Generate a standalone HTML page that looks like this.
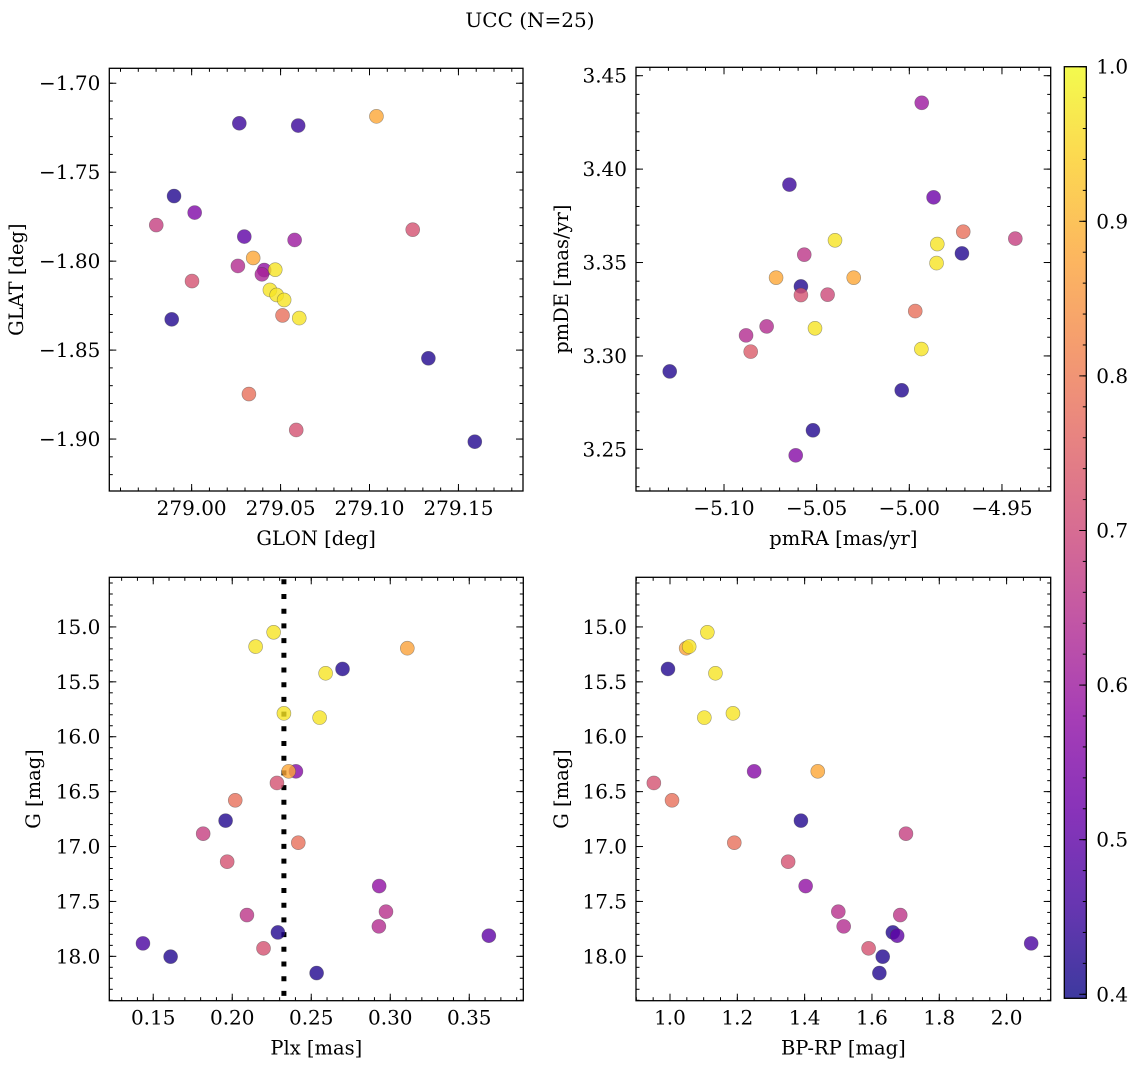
<!DOCTYPE html>
<html><head><meta charset="utf-8"><title>UCC (N=25)</title>
<style>
html,body{margin:0;padding:0;background:#fff;}
svg{display:block;font-family:"DejaVu Serif","Liberation Serif",serif;}
</style></head>
<body>
<svg id="fig" width="1136" height="1067" viewBox="0 0 1136 1067" xmlns="http://www.w3.org/2000/svg">
<rect width="1136" height="1067" fill="#fff"/>
<text x="530" y="27" font-size="20" text-anchor="middle">UCC (N=25)</text>
</svg>
<script>
// ---- data ----
const p1Lon=[279.0268,279.0599,279.1039,278.9901,279.0017,278.9801,279.0296,279.0579,279.1243,279.026,279.0346,279.0408,279.0395,279.047,279.0002,279.044,279.0478,279.052,279.0511,279.0605,278.9888,279.1331,279.0322,279.0588,279.1592];
const p1Lat=[-1.7225,-1.7238,-1.7186,-1.7634,-1.7727,-1.7797,-1.7862,-1.7881,-1.7823,-1.8027,-1.7982,-1.805,-1.8074,-1.8048,-1.8112,-1.8162,-1.819,-1.8218,-1.8305,-1.832,-1.8327,-1.8546,-1.8747,-1.8949,-1.9015];
const p1Prob=[0.45,0.45,0.88,0.42,0.55,0.68,0.5,0.6,0.72,0.64,0.88,0.58,0.62,0.97,0.72,0.97,0.97,0.97,0.78,0.97,0.42,0.42,0.78,0.72,0.42];

const p2PmRA=[-4.9933,-5.0647,-4.9869,-5.0401,-4.9428,-4.9709,-4.9849,-5.0567,-4.9716,-4.9853,-5.0719,-5.03,-5.0585,-5.0585,-5.0441,-4.9968,-5.0509,-5.077,-5.0881,-5.0856,-4.9935,-5.1293,-5.0041,-5.052,-5.0613];
const p2PmDE=[3.4355,3.3917,3.3849,3.3619,3.3628,3.3665,3.3599,3.3542,3.3549,3.3497,3.3419,3.3419,3.3372,3.3326,3.3328,3.324,3.3148,3.3158,3.311,3.3023,3.3037,3.2917,3.2816,3.2602,3.2468];
const p2Prob=[0.6,0.45,0.52,0.97,0.68,0.78,0.97,0.66,0.42,0.97,0.88,0.88,0.42,0.72,0.7,0.78,0.97,0.64,0.64,0.74,0.97,0.42,0.42,0.42,0.56];

const p3Plx=[0.2262,0.2148,0.3108,0.2698,0.2591,0.2327,0.2553,0.2403,0.2357,0.2283,0.2019,0.1958,0.1816,0.2418,0.1968,0.293,0.2973,0.2093,0.2928,0.2289,0.3624,0.1435,0.2198,0.161,0.2534];
const p3G=[15.049,15.179,15.194,15.383,15.422,15.787,15.826,16.315,16.315,16.421,16.579,16.764,16.883,16.965,17.138,17.36,17.593,17.624,17.727,17.782,17.812,17.882,17.927,18.003,18.152];
const p3Prob=[0.97,0.97,0.87,0.42,0.97,0.97,0.97,0.56,0.88,0.72,0.78,0.42,0.68,0.78,0.72,0.58,0.65,0.66,0.64,0.42,0.5,0.47,0.72,0.42,0.42];
const plxMedian=0.2327;

const p4BPRP=[1.111,1.048,1.057,0.994,1.135,1.187,1.102,1.25,1.439,0.952,1.006,1.389,1.701,1.191,1.351,1.403,1.5,1.684,1.516,1.662,1.675,2.073,1.59,1.632,1.622];
const p4G=[15.049,15.194,15.179,15.383,15.422,15.787,15.826,16.315,16.315,16.421,16.579,16.764,16.883,16.965,17.138,17.36,17.593,17.624,17.727,17.782,17.812,17.882,17.927,18.003,18.152];
const p4Prob=[0.97,0.87,0.97,0.42,0.97,0.97,0.97,0.56,0.88,0.72,0.78,0.42,0.68,0.78,0.72,0.58,0.65,0.66,0.64,0.42,0.5,0.47,0.72,0.42,0.42];

const p1XTicks=[279.00,279.05,279.10,279.15];
const p1XLabels=["279.00","279.05","279.10","279.15"];
const p1YTicks=[-1.70,-1.75,-1.80,-1.85,-1.90];
const p1YLabels=["\u22121.70","\u22121.75","\u22121.80","\u22121.85","\u22121.90"];
const p2XTicks=[-5.10,-5.05,-5.00,-4.95];
const p2XLabels=["\u22125.10","\u22125.05","\u22125.00","\u22124.95"];
const p2YTicks=[3.45,3.40,3.35,3.30,3.25];
const p2YLabels=["3.45","3.40","3.35","3.30","3.25"];
const p3XTicks=[0.15,0.20,0.25,0.30,0.35];
const p3XLabels=["0.15","0.20","0.25","0.30","0.35"];
const gTicks=[15.0,15.5,16.0,16.5,17.0,17.5,18.0];
const gLabels=["15.0","15.5","16.0","16.5","17.0","17.5","18.0"];
const p4XTicks=[1.0,1.2,1.4,1.6,1.8,2.0];
const p4XLabels=["1.0","1.2","1.4","1.6","1.8","2.0"];
const cbTicks=[0.4,0.5,0.6,0.7,0.8,0.9,1.0];
const cbLabels=["0.4","0.5","0.6","0.7","0.8","0.9","1.0"];
const vmin=0.3974, vmax=1.0;

// ---- rendering ----
const NS="http://www.w3.org/2000/svg";
const svg=document.getElementById('fig');
const TFS=20, LFS=19.5;
function mk(tag,attrs,parent){const e=document.createElementNS(NS,tag);for(const k in attrs)e.setAttribute(k,attrs[k]);(parent||svg).appendChild(e);return e;}
const plasma=[[13,8,135],[65,4,157],[106,0,168],[143,13,164],[177,42,144],[204,71,120],[225,100,98],[242,132,75],[252,166,54],[252,206,37],[240,249,33]];
function cmap(v){let t=(v-vmin)/(vmax-vmin);t=Math.max(0,Math.min(1,t));const f=t*10,i=Math.min(9,Math.floor(f)),r=f-i;const a=plasma[i],b=plasma[i+1];return 'rgb('+a.map((c,k)=>Math.round(c+(b[k]-c)*r)).join(',')+')';}

function panel(o){
  const g=mk('g',{});
  
  
  const sx=v=>o.x0+(v-o.xmin)/(o.xmax-o.xmin)*(o.x1-o.x0);
  const sy=o.invert?(v=>o.y0+(v-o.ymin)/(o.ymax-o.ymin)*(o.y1-o.y0)):(v=>o.y1-(v-o.ymin)/(o.ymax-o.ymin)*(o.y1-o.y0));
  const ticks=mk('g',{stroke:'#000','stroke-width':1},g);
  
  
  function minors(lo,hi,step){const r=[];for(let k=Math.ceil(Math.min(lo,hi)/step-1e-6);k*step<=Math.max(lo,hi)+1e-9;k++)r.push(k*step);return r;}
  minors(o.xmin,o.xmax,o.xminor).forEach(v=>{const x=sx(v);mk('line',{x1:x,x2:x,y1:o.y1,y2:o.y1-3.5},ticks);mk('line',{x1:x,x2:x,y1:o.y0,y2:o.y0+3.5},ticks);});
  minors(o.ymin,o.ymax,o.yminor).forEach(v=>{const y=sy(v);mk('line',{x1:o.x0,x2:o.x0+3.5,y1:y,y2:y},ticks);mk('line',{x1:o.x1,x2:o.x1-3.5,y1:y,y2:y},ticks);});
  o.xt.forEach((v,i)=>{const x=sx(v);mk('line',{x1:x,x2:x,y1:o.y1,y2:o.y1-7},ticks);mk('line',{x1:x,x2:x,y1:o.y0,y2:o.y0+7},ticks);
    const t=mk('text',{x:x,y:o.y1+24,'font-size':TFS,'text-anchor':'middle'},g);t.textContent=o.xl[i];
    
    });
  o.yt.forEach((v,i)=>{const y=sy(v);mk('line',{x1:o.x0,x2:o.x0+7,y1:y,y2:y},ticks);mk('line',{x1:o.x1,x2:o.x1-7,y1:y,y2:y},ticks);
    const t=mk('text',{x:o.x0-9,y:y+7,'font-size':TFS,'text-anchor':'end'},g);t.textContent=o.yl[i];
    
    });
  const xt=mk('text',{x:(o.x0+o.x1)/2,y:o.y1+54,'font-size':LFS,'text-anchor':'middle'},g);xt.textContent=o.xlabel;
  
  
  const ty=(o.y0+o.y1)/2;
  const yt=mk('text',{x:o.ylx,y:ty,'font-size':LFS,'text-anchor':'middle',transform:'rotate(-90 '+o.ylx+' '+ty+')'},g);yt.textContent=o.ylabel;
  
  
  if(o.vline!==undefined){const x=sx(o.vline);const l=mk('line',{x1:x,x2:x,y1:o.y0+2,y2:o.y1,stroke:'#000','stroke-width':5,'stroke-dasharray':'5 9.7'},g);
    
    }
  o.xs.forEach((v,i)=>{const c=mk('circle',{cx:sx(v),cy:sy(o.ys[i]),r:7,fill:cmap(o.cs[i]),'fill-opacity':0.8,stroke:'#444','stroke-opacity':0.5,'stroke-width':0.6},g);
    
    });
  const fr=mk('rect',{x:o.x0,y:o.y0,width:o.x1-o.x0,height:o.y1-o.y0,fill:'none',stroke:'#000','stroke-width':1.3},g);
  
  
}

panel({name:'glon-glat-panel',x0:109.3,x1:523,y0:68.3,y1:491,xmin:278.9537,xmax:279.1863,ymin:-1.9292,ymax:-1.6916,xminor:0.01,yminor:0.01,xt:p1XTicks,xl:p1XLabels,yt:p1YTicks,yl:p1YLabels,xlabel:'GLON [deg]',ylabel:'GLAT [deg]',ylx:23,xs:p1Lon,ys:p1Lat,cs:p1Prob});
panel({name:'pm-panel',x0:636,x1:1050.7,y0:67.3,y1:491,xmin:-5.1475,xmax:-4.9237,ymin:3.2277,ymax:3.4545,xminor:0.01,yminor:0.01,xt:p2XTicks,xl:p2XLabels,yt:p2YTicks,yl:p2YLabels,xlabel:'pmRA [mas/yr]',ylabel:'pmDE [mas/yr]',ylx:568,xs:p2PmRA,ys:p2PmDE,cs:p2Prob});
panel({name:'plx-g-panel',x0:109.3,x1:523.3,y0:577.3,y1:1000.7,xmin:0.1222,xmax:0.3842,ymin:14.548,ymax:18.404,invert:true,xminor:0.01,yminor:0.1,xt:p3XTicks,xl:p3XLabels,yt:gTicks,yl:gLabels,xlabel:'Plx [mas]',ylabel:'G [mag]',ylx:40,xs:p3Plx,ys:p3G,cs:p3Prob,vline:plxMedian});
panel({name:'cmd-panel',x0:636,x1:1050.7,y0:577.3,y1:1000.7,xmin:0.899,xmax:2.131,ymin:14.548,ymax:18.404,invert:true,xminor:0.05,yminor:0.1,xt:p4XTicks,xl:p4XLabels,yt:gTicks,yl:gLabels,xlabel:'BP-RP [mag]',ylabel:'G [mag]',ylx:568,xs:p4BPRP,ys:p4G,cs:p4Prob});

// colorbar
(function(){
  const x0=1064.3,x1=1086.3,y0=66.7,y1=998.3;
  const cb=mk('g',{});
  
  
  const defs=mk('defs',{},cb);
  const lg=mk('linearGradient',{id:'cbg',x1:0,y1:1,x2:0,y2:0},defs);
  for(let i=0;i<=20;i++){const v=vmin+(vmax-vmin)*i/20;mk('stop',{offset:i/20,'stop-color':cmap(v),'stop-opacity':0.8},lg);}
  mk('rect',{x:x0,y:y0,width:x1-x0,height:y1-y0,fill:'url(#cbg)'},cb);
  const cy=v=>y1-(v-vmin)/(vmax-vmin)*(y1-y0);
  for(let k=20;k<=50;k++){const v=k*0.02;if(v<vmin-1e-9)continue;const y=cy(v);mk('line',{x1:x1,x2:x1-3.5,y1:y,y2:y,stroke:'#000','stroke-width':1},cb);}
  cbTicks.forEach((v,i)=>{const y=cy(v);mk('line',{x1:x1,x2:x1-7,y1:y,y2:y,stroke:'#000','stroke-width':1},cb);
    const t=mk('text',{x:x1+10,y:y+7,'font-size':TFS},cb);t.textContent=cbLabels[i];
    
    });
  mk('rect',{x:x0,y:y0,width:x1-x0,height:y1-y0,fill:'none',stroke:'#000','stroke-width':1.3},cb);
})();
</script>
</body></html>
